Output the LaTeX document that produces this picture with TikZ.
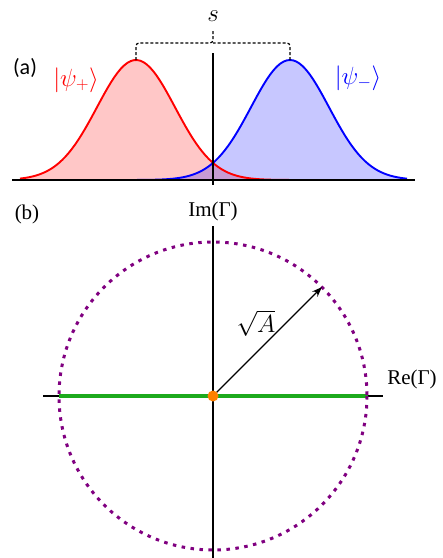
\documentclass[tikz,border=0pt]{standalone}
\usepackage{fontspec}
\setmainfont{Liberation Serif}
\newfontfamily\panelfont{Carlito}
\usetikzlibrary{arrows.meta,calc}
\definecolor{psired}{HTML}{FF0000}
\definecolor{psiblue}{HTML}{0000FF}
\definecolor{circpurple}{HTML}{800080}
\definecolor{linegreen}{HTML}{1DAA1D}
\definecolor{dotorange}{HTML}{FF8000}

\begin{document}
\begin{tikzpicture}[
  x=1pt, y=-1pt,
  declare function={gauss(\t,\m)=180-120*exp(-0.5*((\t-\m)/39)*((\t-\m)/39));},
  axis/.style={line width=1.4pt, black},
  wave/.style={line width=1.9pt, samples=120, domain=20:407},
  brace/.style={line width=1.2pt, dashed, dash pattern=on 3pt off 2pt, rounded corners=3pt},
  lbl/.style={font=\fontsize{21}{24}\selectfont, inner sep=0pt},
  ket/.style={font=\fontsize{24}{28}\selectfont, inner sep=0pt}
]
  \useasboundingbox (0,0) rectangle (443,558);

  % (a) the two wave packets
  \fill[psired, fill opacity=0.22] (20,180) -- plot[samples=120, domain=20:407] (\x,{gauss(\x,136)}) -- (407,180) -- cycle;
  \fill[psiblue, fill opacity=0.22] (20,180) -- plot[samples=120, domain=20:407] (\x,{gauss(\x,290)}) -- (407,180) -- cycle;
  \draw[wave, psired] plot (\x,{gauss(\x,136)});
  \draw[wave, psiblue] plot (\x,{gauss(\x,290)});
  \coordinate (xl) at (12,180);
  \coordinate (xr) at (415,180);
  \coordinate (yt) at (213,53);
  \coordinate (yb) at (213,185);
  \draw[axis] (xl) -- (xr);
  \draw[axis] (yt) -- (yb);

  \coordinate (peakL) at (136,60);
  \coordinate (peakR) at (290,60);
  \coordinate (join) at (213,43);
  \node[ket] (s) at (213,16) {$s$};
  \coordinate (tick) at (213,31);
  \draw[brace] (peakL) |- (join) -- (tick);
  \draw[brace] (peakR) |- (join);

  \node[lbl, font=\panelfont\fontsize{22}{24}\selectfont] (la) at (25,68) {(a)};
  \node[ket, text=psired] (kplus) at (76,80) {$|\psi_+\rangle$};
  \node[ket, text=psiblue] (kminus) at (358,78) {$|\psi_-\rangle$};

  % (b) the complex plane
  \coordinate (O) at (213,396);
  \coordinate (rl) at (43,396);
  \coordinate (rr) at (383,396);
  \coordinate (it) at (213,226);
  \coordinate (ib) at (213,558);
  \draw[axis] (rl) -- (rr);
  \draw[axis] (it) -- (ib);
  \coordinate (gl) at (59,396);
  \coordinate (gr) at (368,396);
  \draw[linegreen, line width=3.6pt] (gl) -- (gr);
  \draw[circpurple, line width=3pt, dash pattern=on 3.5pt off 5.5pt] (O) circle[radius=154];
  \coordinate (tip) at ($(O)+(-45:154)$);
  \draw[line width=1.4pt, -{Stealth[length=10pt, width=7.5pt]}] (O) -- (tip);
  \fill[dotorange] (O) circle[radius=5.5];

  \node[lbl] (lb) at (27,214) {(b)};
  \node[lbl] (im) at (213,211) {Im(Γ)};
  \node[lbl] (re) at (412,379) {Re(Γ)};
  \node[ket] (amp) at (256,323) {$\sqrt{A}$};
\end{tikzpicture}
\end{document}
